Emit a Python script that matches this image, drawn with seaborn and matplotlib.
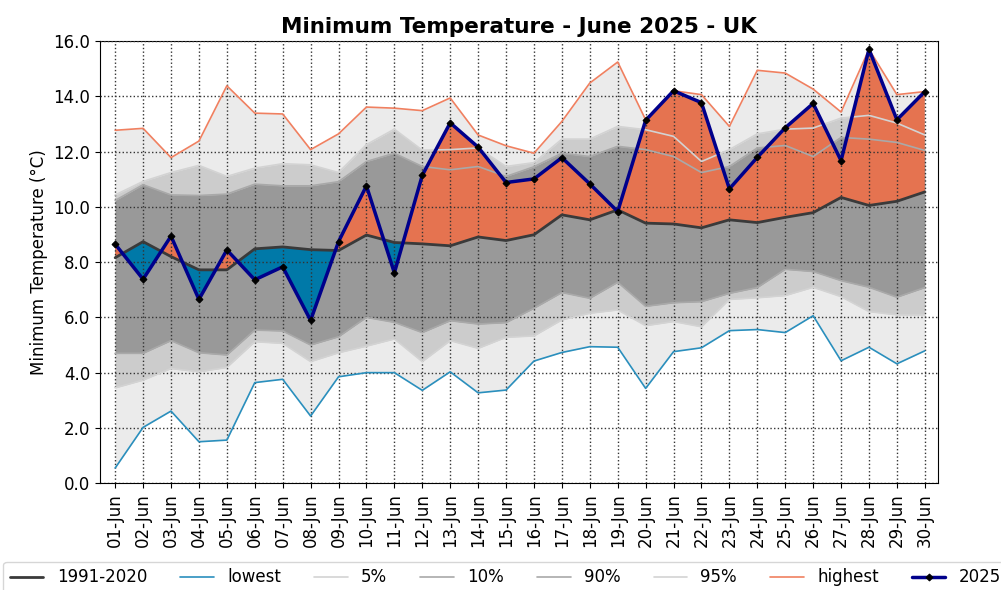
import numpy as np
import pandas as pd
import seaborn as sns
import matplotlib
matplotlib.use("Agg")
import matplotlib.pyplot as plt

days = [f"{d:02d}-Jun" for d in range(1, 31)]

mean_1991_2020 = [8.16, 8.74, 8.2, 7.72, 7.72, 8.48, 8.55, 8.45, 8.42, 8.98,
                  8.71, 8.66, 8.59, 8.91, 8.78, 8.99, 9.71, 9.53, 9.89, 9.41,
                  9.38, 9.24, 9.53, 9.43, 9.62, 9.79, 10.34, 10.05, 10.2, 10.54]
t2025 = [8.65, 7.38, 8.94, 6.65, 8.44, 7.36, 7.83, 5.89, 8.74, 10.76,
         7.61, 11.14, 13.04, 12.16, 10.88, 11.01, 11.78, 10.83, 9.83, 13.13,
         14.2, 13.77, 10.65, 11.79, 12.86, 13.74, 11.67, 15.7, 13.15, 14.17]
highest = [12.77, 12.84, 11.78, 12.38, 14.38, 13.39, 13.36, 12.07, 12.64, 13.61,
           13.57, 13.48, 13.94, 12.6, 12.21, 11.94, 13.09, 14.48, 15.24, 13.15,
           14.2, 14.06, 12.91, 14.94, 14.84, 14.26, 13.43, 15.7, 14.06, 14.17]
lowest = [0.55, 2.02, 2.61, 1.5, 1.56, 3.64, 3.76, 2.43, 3.85, 4.0,
          4.0, 3.36, 4.03, 3.27, 3.37, 4.42, 4.73, 4.94, 4.92, 3.43,
          4.76, 4.9, 5.52, 5.56, 5.45, 6.06, 4.43, 4.92, 4.32, 4.79]
p5 = [3.45, 3.73, 4.15, 4.03, 4.19, 5.12, 5.06, 4.4, 4.72, 4.96,
      5.22, 4.4, 5.16, 4.88, 5.28, 5.33, 5.91, 6.15, 6.27, 5.7,
      5.85, 5.66, 6.65, 6.71, 6.79, 7.09, 6.75, 6.21, 6.09, 6.09]
p10 = [4.7, 4.7, 5.16, 4.72, 4.64, 5.54, 5.51, 5.0, 5.3, 6.0,
       5.82, 5.45, 5.88, 5.76, 5.81, 6.33, 6.9, 6.69, 7.27, 6.4,
       6.53, 6.57, 6.87, 7.08, 7.74, 7.66, 7.33, 7.09, 6.73, 7.08]
p90 = [10.23, 10.8, 10.43, 10.41, 10.46, 10.82, 10.76, 10.76, 10.91, 11.64,
       11.94, 11.46, 11.34, 11.46, 11.1, 11.45, 11.94, 11.82, 12.19, 12.07,
       11.82, 11.24, 11.46, 12.13, 12.22, 11.82, 12.51, 12.45, 12.33, 12.04]
p95 = [10.43, 10.92, 11.24, 11.5, 11.1, 11.4, 11.56, 11.52, 11.24, 12.25,
       12.81, 12.05, 12.07, 12.13, 11.46, 11.6, 12.45, 12.45, 12.91, 12.79,
       12.55, 11.64, 12.07, 12.64, 12.81, 12.85, 13.21, 13.31, 13.03, 12.6]

df = pd.DataFrame({"x": np.arange(len(days)), "mean": mean_1991_2020, "y2025": t2025,
                   "highest": highest, "lowest": lowest,
                   "p5": p5, "p10": p10, "p90": p90, "p95": p95})

sns.set_style("ticks")
plt.rcParams['font.family'] = ['DejaVu Sans']
plt.rcParams.update({"text.color": "black", "axes.labelcolor": "black",
                     "xtick.color": "black", "ytick.color": "black",
                     "axes.edgecolor": "black"})

fig = plt.figure(figsize=(10.01, 5.90), dpi=100)
ax = fig.add_axes([0.1, 0.181, 0.837, 0.7495])

x = df["x"]
ax.fill_between(x, df["lowest"], df["highest"], color="#ebebeb", lw=0, zorder=1)
ax.fill_between(x, df["p5"], df["p95"], color="#cccccc", lw=0, zorder=1)
ax.fill_between(x, df["p10"], df["p90"], color="#999999", lw=0, zorder=1)
above = df["y2025"] >= df["mean"]
ax.fill_between(x, df["mean"], df["y2025"], where=above, interpolate=True,
                color="#e57350", lw=0, zorder=2)
ax.fill_between(x, df["mean"], df["y2025"], where=~above, interpolate=True,
                color="#0079a8", lw=0, zorder=2)

sns.lineplot(data=df, x="x", y="mean", ax=ax, color="#3a3a3a", lw=2, label="1991-2020", zorder=3)
sns.lineplot(data=df, x="x", y="lowest", ax=ax, color="#2a8fbd", lw=1.2, label="lowest", zorder=3)
sns.lineplot(data=df, x="x", y="p5", ax=ax, color="#d3d3d3", lw=1.2, label="5%", zorder=3)
sns.lineplot(data=df, x="x", y="p10", ax=ax, color="#a9a9a9", lw=1.2, label="10%", zorder=3)
sns.lineplot(data=df, x="x", y="p90", ax=ax, color="#a9a9a9", lw=1.2, label="90%", zorder=3)
sns.lineplot(data=df, x="x", y="p95", ax=ax, color="#d3d3d3", lw=1.2, label="95%", zorder=3)
sns.lineplot(data=df, x="x", y="highest", ax=ax, color="#f08060", lw=1.2, label="highest", zorder=3)
sns.lineplot(data=df, x="x", y="y2025", ax=ax, color="#00008b", lw=2.5, marker="D",
             markersize=3.5, markerfacecolor="black", markeredgecolor="black",
             label="2025", zorder=4)

ax.set_xlim(-0.54, 29.47)
ax.set_ylim(0, 16)
ax.set_yticks(np.arange(0, 16.1, 2))
ax.set_yticklabels([f"{v:.1f}" for v in np.arange(0, 16.1, 2)], fontsize=12)
ax.set_xticks(x)
ax.set_xticklabels(days, rotation=90, fontsize=12)
ax.grid(True, ls=":", color="#333333", lw=1)
ax.set_axisbelow(False)
for s in ax.spines.values():
    s.set_visible(True)
    s.set_color("black")
ax.set_xlabel("")
ax.set_ylabel("Minimum Temperature (°C)", fontsize=12)
ax.set_title("Minimum Temperature - June 2025 - UK", fontsize=15.5, fontweight="bold")

handles, labels = ax.get_legend_handles_labels()
ax.get_legend().remove()
fig.legend(handles, labels, loc="upper center", bbox_to_anchor=(0.505, 0.062),
           ncol=8, fontsize=12, frameon=True, edgecolor="#cccccc", fancybox=True)

fig.savefig("out.png", dpi=100)
